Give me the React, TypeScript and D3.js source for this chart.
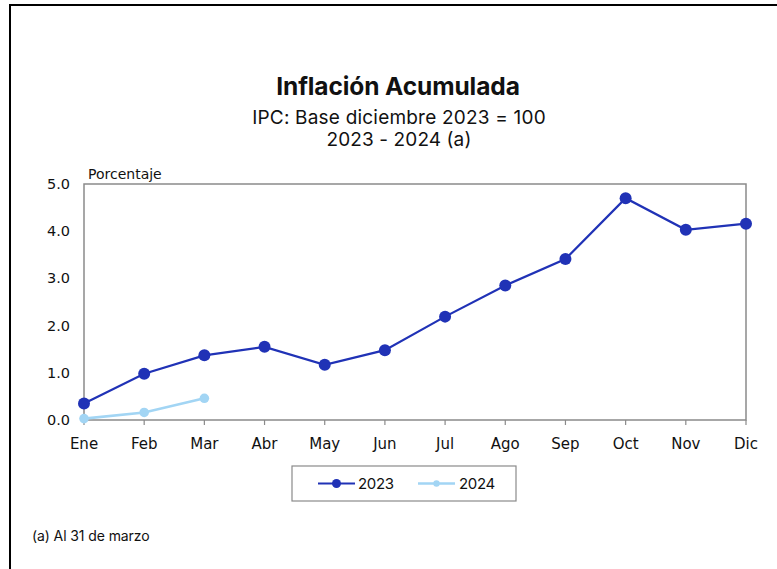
import React from "react";
import * as d3 from "d3";

const months = ["Ene", "Feb", "Mar", "Abr", "May", "Jun", "Jul", "Ago", "Sep", "Oct", "Nov", "Dic"];
const values2023 = [0.35, 0.98, 1.37, 1.55, 1.17, 1.48, 2.19, 2.85, 3.41, 4.7, 4.03, 4.16];
const values2024 = [0.03, 0.16, 0.46];
const yTicks = [0, 1, 2, 3, 4, 5];
const seriesNames = ["2023", "2024"];
const titleText = "Inflación Acumulada";
const subtitle1 = "IPC: Base diciembre 2023 = 100";
const subtitle2 = "2023 - 2024 (a)";
const yAxisLabel = "Porcentaje";
const footnote = "(a) Al 31 de marzo";

const W = 777;
const H = 569;
const C2023 = "#2032b6";
const C2024 = "#a2d5f4";
const TITLE_FONT = "Inter, 'Noto Sans', sans-serif";
const TICK_FONT = "'DejaVu Sans', sans-serif";

export default function App() {
  const plot = { left: 84, right: 746, top: 184, bottom: 420 };
  const x = d3.scalePoint<string>().domain(months).range([plot.left, plot.right]);
  const y = d3.scaleLinear().domain([0, 5]).range([plot.bottom, plot.top]);
  const line = d3
    .line<number>()
    .x((_, i) => x(months[i]) as number)
    .y((d) => y(d));

  return (
    <svg
      width={W}
      height={H}
      style={{ position: "absolute", left: 0, top: 0, background: "#fff" }}
    >
      <rect x={0} y={0} width={W} height={H} fill="#fff" />
      {/* outer frame */}
      <rect x={10} y={5} width={W + 20} height={H + 20} fill="none" stroke="#000" strokeWidth={2} />

      {/* titles */}
      <text x={398} y={94.5} textAnchor="middle" fontFamily={TITLE_FONT} fontWeight={700} fontSize={24.5} letterSpacing={-0.1} fill="#111">
        {titleText}
      </text>
      <text x={399} y={124} textAnchor="middle" fontFamily={TITLE_FONT} fontSize={19} letterSpacing={0.2} fill="#111">
        {subtitle1}
      </text>
      <text x={399} y={145.5} textAnchor="middle" fontFamily={TITLE_FONT} fontSize={19} letterSpacing={0.1} fill="#111">
        {subtitle2}
      </text>

      {/* plot frame */}
      <rect
        x={plot.left}
        y={plot.top}
        width={plot.right - plot.left}
        height={plot.bottom - plot.top}
        fill="none"
        stroke="#8a8a8a"
        strokeWidth={1.5}
      />
      <text x={88} y={179} fontFamily={TICK_FONT} fontSize={14} fill="#111">
        {yAxisLabel}
      </text>

      {/* y ticks */}
      {yTicks.map((t) => (
        <text key={t} x={70} y={y(t) + 5} textAnchor="end" fontFamily={TICK_FONT} fontSize={14.5} fill="#111">
          {d3.format(".1f")(t)}
        </text>
      ))}

      {/* x ticks */}
      {months.map((m) => (
        <g key={m}>
          <line x1={x(m)} x2={x(m)} y1={plot.bottom} y2={plot.bottom + 5} stroke="#8a8a8a" strokeWidth={1.2} />
          <text x={x(m)} y={449} textAnchor="middle" fontFamily={TICK_FONT} fontSize={15} fill="#111">
            {m}
          </text>
        </g>
      ))}

      {/* series 2023 */}
      <path d={line(values2023) ?? ""} fill="none" stroke={C2023} strokeWidth={2.2} />
      {values2023.map((v, i) => (
        <circle key={i} cx={x(months[i])} cy={y(v)} r={6} fill={C2023} />
      ))}

      {/* series 2024 */}
      <path d={line(values2024) ?? ""} fill="none" stroke={C2024} strokeWidth={2.6} />
      {values2024.map((v, i) => (
        <circle key={i} cx={x(months[i])} cy={y(v)} r={4.8} fill={C2024} />
      ))}

      {/* legend */}
      <rect x={292} y={466} width={224} height={35} fill="#fff" stroke="#8a8a8a" strokeWidth={1.2} />
      <line x1={318} x2={355} y1={483.5} y2={483.5} stroke={C2023} strokeWidth={2.2} />
      <circle cx={336.5} cy={483.5} r={4.5} fill={C2023} />
      <text x={358} y={489} fontFamily={TITLE_FONT} fontSize={15} letterSpacing={-0.3} fill="#111">
        {seriesNames[0]}
      </text>
      <line x1={418} x2={455} y1={483.5} y2={483.5} stroke={C2024} strokeWidth={2.6} />
      <circle cx={436.5} cy={483.5} r={3.2} fill={C2024} />
      <text x={459} y={489} fontFamily={TITLE_FONT} fontSize={15} letterSpacing={-0.3} fill="#111">
        {seriesNames[1]}
      </text>

      {/* footnote */}
      <text x={32} y={541} fontFamily={TITLE_FONT} fontSize={14} letterSpacing={-0.1} fill="#111">
        {footnote}
      </text>
    </svg>
  );
}
